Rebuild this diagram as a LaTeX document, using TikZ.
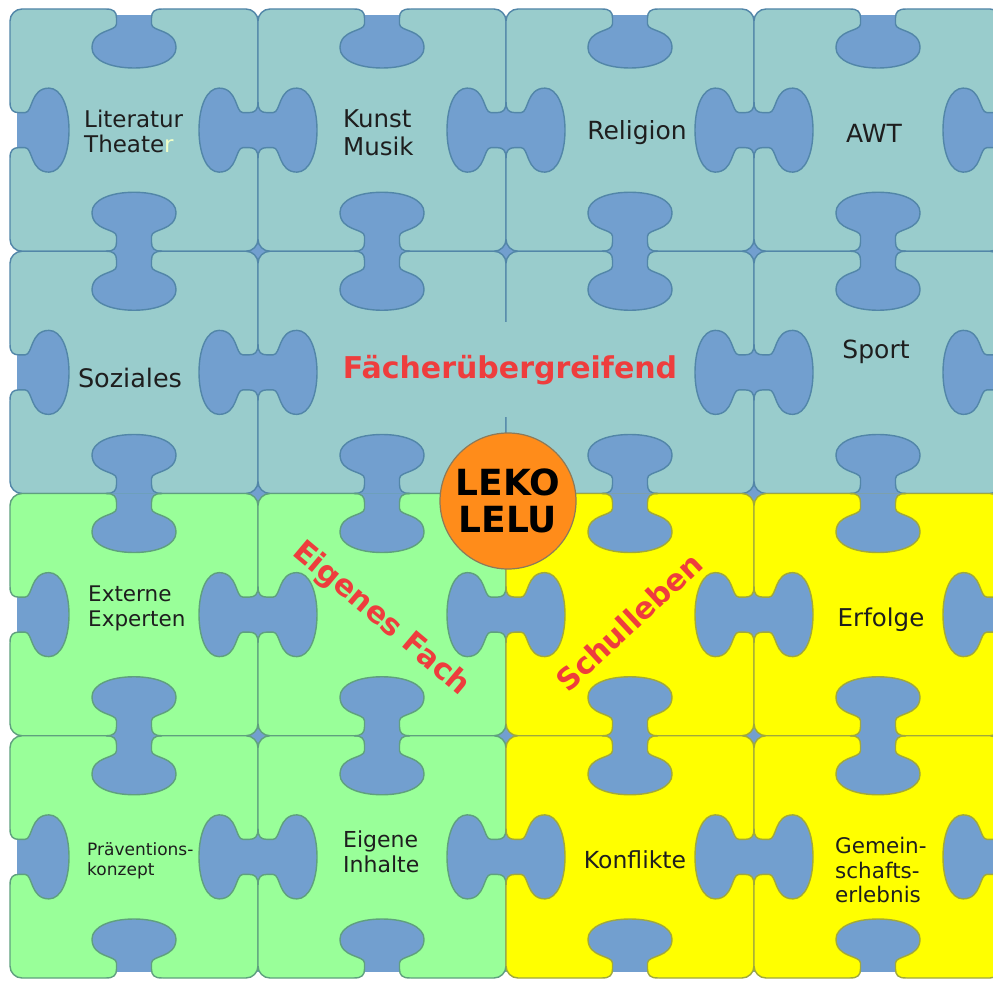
\documentclass[tikz,border=0pt]{standalone}
\usepackage{fontspec}
\setmainfont{DejaVu Sans}
\definecolor{bgblue}{HTML}{729FCF}
\definecolor{tealf}{HTML}{99CCCC}
\definecolor{teald}{HTML}{5286A8}
\definecolor{greenf}{HTML}{99FF99}
\definecolor{greend}{HTML}{5FA07E}
\definecolor{yellowf}{HTML}{FFFF00}
\definecolor{yellowd}{HTML}{A0A83C}
\definecolor{orangef}{HTML}{FF8C1A}
\definecolor{circd}{HTML}{8C7A5A}
\definecolor{redt}{HTML}{EE3D3D}
\definecolor{txt}{HTML}{1E1E1E}
\definecolor{pale}{HTML}{F0FFC8}
\newcommand\notchcurve{(-28,0) .. controls (-20,0) and (-17.5,3) .. (-17.5,9) -- (-17.5,15) .. controls (-17.5,23) and (-42,20) .. (-42,39) .. controls (-42,51) and (-24,59) .. (0,59) .. controls (24,59) and (42,51) .. (42,39) .. controls (42,20) and (17.5,23) .. (17.5,15) -- (17.5,9) .. controls (17.5,3) and (20,0) .. (28,0)}
% x, y, rotation, line colour, outer (0/1)
\newcommand\notch[5]{%
  \begin{scope}[shift={(#1,#2)},rotate=#3]
    \ifnum#5=1
      \fill[white] \notchcurve -- (28,-4) -- (-28,-4) -- cycle;
      \begin{scope}
        \clip (-50,7) rectangle (50,70);
        \fill[bgblue] \notchcurve -- cycle;
      \end{scope}
    \else
      \fill[bgblue] \notchcurve -- cycle;
    \fi
    \draw[#4, line width=1.4] \notchcurve;
  \end{scope}}
\newcommand\fsz[2]{\fontsize{#1}{#2}\selectfont}
\tikzset{
  lbl/.style={text=txt, inner sep=0pt},
  redlbl/.style={font=\bfseries\fsz{30}{34}, text=redt, inner sep=0pt},
  piecebox/.style={line width=1.4, rounded corners=12}
}
\begin{document}
\begin{tikzpicture}[x=1pt,y=-1pt]
\clip (0,0) rectangle (993,981);
\fill[white] (0,0) rectangle (993,981);
\fill[bgblue] (18,17) rectangle (1100,972);
% pieces
\foreach \r in {0,1,2,3}{\foreach \c in {0,1,2,3}{
  \pgfmathsetmacro\xo{10+248*\c}
  \pgfmathsetmacro\yo{9+242.25*\r}
  \ifnum\r<2 \def\pf{tealf}\def\pd{teald}\else\ifnum\c<2 \def\pf{greenf}\def\pd{greend}\else\def\pf{yellowf}\def\pd{yellowd}\fi\fi
  \filldraw[piecebox, fill=\pf, draw=\pd] (\xo,\yo) rectangle ++(248,242.25);
}}
% notches
\foreach \r in {0,1,2,3}{\foreach \c in {0,1,2,3}{
  \pgfmathsetmacro\xo{10+248*\c}
  \pgfmathsetmacro\yo{9+242.25*\r}
  \ifnum\r<2 \def\pd{teald}\else\ifnum\c<2 \def\pd{greend}\else\def\pd{yellowd}\fi\fi
  \ifnum\r=0 \def\ot{1}\else\def\ot{0}\fi
  \notch{\xo+124}{\yo}{0}{\pd}{\ot}
  \ifnum\r=3 \def\ob{1}\else\def\ob{0}\fi
  \notch{\xo+124}{\yo+242.25}{180}{\pd}{\ob}
  \def\skipr{0}\ifnum\r=1 \ifnum\c=1 \def\skipr{1}\fi\fi
  \ifnum\skipr=0 \notch{\xo+248}{\yo+121.125}{-90}{\pd}{0}\fi
  \def\skipl{0}\ifnum\r=1 \ifnum\c=2 \def\skipl{1}\fi\fi
  \ifnum\c=0 \def\ol{1}\else\def\ol{0}\fi
  \ifnum\skipl=0 \notch{\xo}{\yo+121.125}{90}{\pd}{\ol}\fi
}}
\fill[tealf] (503,322) rectangle (509,417);
% centre
\node[circle, fill=orangef, draw=circd, line width=1.2, minimum size=136, inner sep=0pt,
  align=center, font=\bfseries\fsz{36}{37}, text=black] (leko) at (508,501) {LEKO\\LELU};
% labels
\node[lbl, font=\fsz{23}{25}, anchor=west, align=left] (lit) at (84,131) {Literatur\\Theate{\color{pale}r}};
\node[lbl, font=\fsz{24.5}{28}, anchor=west, align=left] (kunst) at (343,132.5) {Kunst\\Musik};
\node[lbl, font=\fsz{25}{28}] (rel) at (637,133) {Religion};
\node[lbl, font=\fsz{25}{28}] (awt) at (874,133) {AWT};
\node[lbl, font=\fsz{25.5}{28}] (soz) at (130,378) {Soziales};
\node[lbl, font=\fsz{25}{28}] (sport) at (876,352) {Sport};
\node[redlbl] (faech) at (510,370) {Fächerübergreifend};
\node[lbl, font=\fsz{21.5}{25}, anchor=west, align=left] (ext) at (88,608) {Externe\\Experten};
\node[lbl, font=\fsz{24.5}{28}] (erf) at (881,620) {Erfolge};
\node[lbl, font=\fsz{17}{20}, anchor=west, align=left] (prae) at (87,861) {Präventions-\\konzept};
\node[lbl, font=\fsz{22}{25}, anchor=west, align=left] (eig) at (343,852) {Eigene\\Inhalte};
\node[lbl, font=\fsz{23.5}{27}] (konf) at (635,860) {Konflikte};
\node[lbl, font=\fsz{21.5}{24.5}, anchor=west, align=left] (gem) at (835,870) {Gemein-\\schafts-\\erlebnis};
\node[redlbl, rotate=-40] (eigfach) at (381,619) {Eigenes Fach};
\node[redlbl, rotate=43] (schul) at (629,622) {Schulleben};
\end{tikzpicture}
\end{document}
